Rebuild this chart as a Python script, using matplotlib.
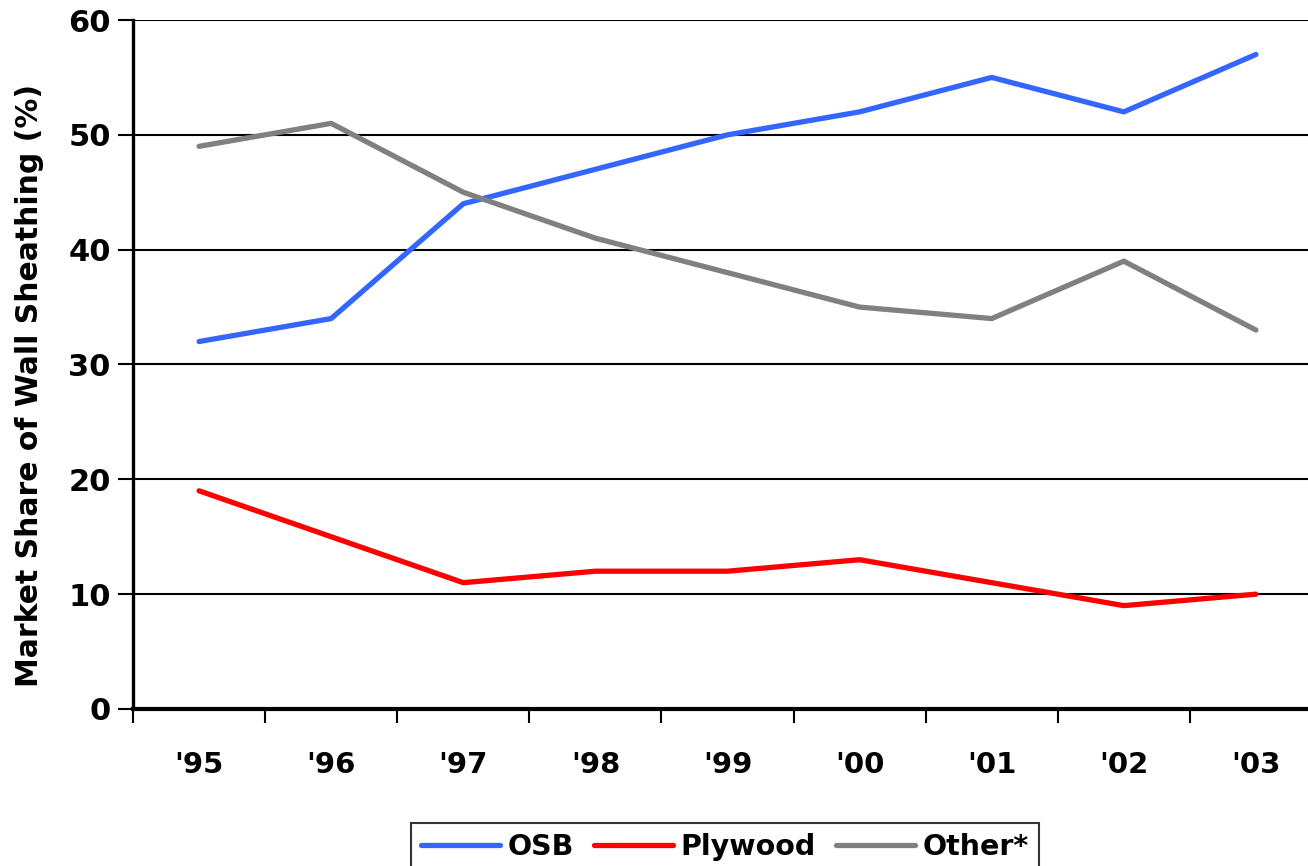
import matplotlib
matplotlib.use("Agg")
import matplotlib.pyplot as plt
import numpy as np

years = ["'95", "'96", "'97", "'98", "'99", "'00", "'01", "'02", "'03"]
osb = [32, 34, 44, 47, 50, 52, 55, 52, 57]
plywood = [19, 15, 11, 12, 12, 13, 11, 9, 10]
other = [49, 51, 45, 41, 38, 35, 34, 39, 33]

plt.rcParams['font.family'] = ['DejaVu Sans']
plt.rcParams['font.weight'] = 'bold'

fig = plt.figure(figsize=(13.08, 8.66), dpi=100)
ax = fig.add_axes([0.1017, 0.1813, 0.909, 0.7956])

x = np.arange(len(years))
ax.plot(x, osb, color="#3366FF", lw=3.8, solid_capstyle="round", label="OSB", zorder=3)
ax.plot(x, plywood, color="#FF0000", lw=3.8, solid_capstyle="round", label="Plywood", zorder=3)
ax.plot(x, other, color="#808080", lw=3.8, solid_capstyle="round", label="Other*", zorder=3)

ax.set_xlim(-0.5, len(years) - 0.5)
ax.set_ylim(0, 60)
ax.set_yticks(range(0, 61, 10))
ax.yaxis.grid(True, color="black", lw=1.5)
ax.set_axisbelow(True)

ax.set_xticks(x)
ax.set_xticklabels(years, fontsize=21, fontweight="bold")
ax.set_xticks(np.arange(-0.5, len(years), 1), minor=True)
ax.tick_params(axis="x", which="major", length=0, pad=30)
ax.tick_params(axis="x", which="minor", length=10, width=1.5, direction="out")
ax.tick_params(axis="y", length=11, width=1.5, labelsize=22, pad=5)
for lab in ax.get_yticklabels():
    lab.set_fontweight("bold")

for s in ["top", "right"]:
    ax.spines[s].set_visible(False)
ax.spines["left"].set_linewidth(2.4)
ax.spines["bottom"].set_linewidth(3)

ax.set_ylabel("Market Share of Wall Sheathing (%)", fontsize=21.5, fontweight="bold")
ax.yaxis.set_label_coords(-0.075, 0.469)

leg = fig.legend(loc="upper center", bbox_to_anchor=(0.554, 0.066), ncol=3,
                 frameon=True, fancybox=False, edgecolor="black", fontsize=20.5,
                 handlelength=2.8, handletextpad=0.25, columnspacing=0.7,
                 borderpad=0.35)
leg.get_frame().set_linewidth(1.5)
for t in leg.get_texts():
    t.set_fontweight("bold")

fig.savefig("out.png", dpi=100)
